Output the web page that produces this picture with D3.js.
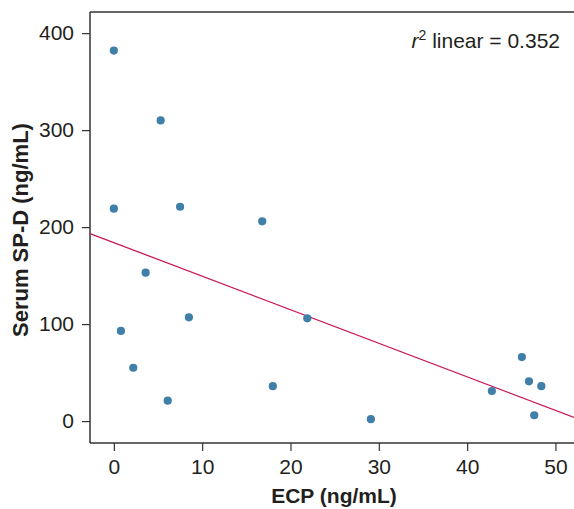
<!DOCTYPE html>
<html>
<head>
<meta charset="utf-8">
<script src="https://cdn.jsdelivr.net/npm/d3@7"></script>
<style>
  body { margin: 0; background: #fff; }
  svg text { font-family: "Liberation Sans", Arial, sans-serif; fill: #231f20; }
</style>
</head>
<body>
<div id="chart"></div>
<script>
// ECP vs serum SP-D
const ecp = [0, 5.3, 0, 7.5, 16.8, 3.6, 0.8, 8.5, 2.2, 6.1, 18, 21.9, 29.1, 42.8, 46.2, 47.0, 48.4, 47.6];
const spd = [382, 310, 219, 221, 206, 153, 93, 107, 55, 21, 36, 106, 2, 31, 66, 41, 36, 6];
const xTicks = [0, 10, 20, 30, 40, 50];
const yTicks = [0, 100, 200, 300, 400];
// fitted line shown on the plot
const fitIntercept = 184;
const fitSlope = -3.46;
const r2Label = '0.352';

const W = 574, H = 509;
const margin = { top: 12, right: 0, bottom: 66, left: 90 };
const width = W - margin.left - margin.right;
const height = H - margin.top - margin.bottom;

const svg = d3.select('#chart')
    .append('svg')
    .attr('width', W)
    .attr('height', H)
    .append('g')
    .attr('transform', `translate(${margin.left},${margin.top})`);

const xScale = d3.scaleLinear().domain([-2.7, 52.1]).range([0, width]);
const yScale = d3.scaleLinear().domain([-22.6, 421.8]).range([height, 0]);

const axisColor = '#333';

// top border
svg.append('line')
    .attr('x1', 0).attr('x2', width)
    .attr('y1', 0).attr('y2', 0)
    .attr('stroke', axisColor).attr('stroke-width', 1.5);

const xAxis = svg.append('g')
    .attr('transform', `translate(0, ${height})`)
    .call(d3.axisBottom(xScale).tickValues(xTicks).tickSize(8).tickPadding(8).tickSizeOuter(0));

const yAxis = svg.append('g')
    .call(d3.axisLeft(yScale).tickValues(yTicks).tickSize(8).tickPadding(8).tickSizeOuter(0));

[xAxis, yAxis].forEach(a => {
    a.select('.domain').attr('stroke', axisColor).attr('stroke-width', 1.5);
    a.selectAll('.tick line').attr('stroke', axisColor).attr('stroke-width', 1.2);
    a.selectAll('.tick text').attr('font-size', 21).attr('fill', '#231f20');
});
xAxis.select('.domain').attr('d', `M0,0H${width}`);
yAxis.select('.domain').attr('d', `M0,0V${height}`);

// axis labels
svg.append('text')
    .attr('text-anchor', 'middle')
    .attr('x', width / 2 + 2)
    .attr('y', height + 60)
    .attr('font-size', 21)
    .attr('font-weight', 'bold')
    .text('ECP (ng/mL)');

svg.append('text')
    .attr('text-anchor', 'middle')
    .attr('transform', `translate(${-62.5}, ${yScale(197)}) rotate(-90)`)
    .attr('font-size', 22)
    .attr('font-weight', 'bold')
    .text('Serum SP-D (ng/mL)');

// regression line
const x0 = xScale.domain()[0], x1 = xScale.domain()[1];
svg.append('line')
    .attr('x1', xScale(x0)).attr('y1', yScale(fitIntercept + fitSlope * x0))
    .attr('x2', xScale(x1)).attr('y2', yScale(fitIntercept + fitSlope * x1))
    .attr('stroke', '#c8175a')
    .attr('stroke-width', 1.3);

// points
svg.selectAll('circle')
    .data(ecp.map((e, i) => ({ x: e, y: spd[i] })))
    .enter()
    .append('circle')
    .attr('cx', d => xScale(d.x))
    .attr('cy', d => yScale(d.y))
    .attr('r', 4.1)
    .attr('fill', '#3f7fa8');

// r squared note
const note = svg.append('text')
    .attr('text-anchor', 'end')
    .attr('x', width - 14)
    .attr('y', 36)
    .attr('font-size', 21);
note.append('tspan').attr('font-style', 'italic').text('r');
note.append('tspan').attr('font-size', 14).attr('dy', -8).text('2');
note.append('tspan').attr('dy', 8).text(' linear = ' + r2Label);
</script>
</body>
</html>
